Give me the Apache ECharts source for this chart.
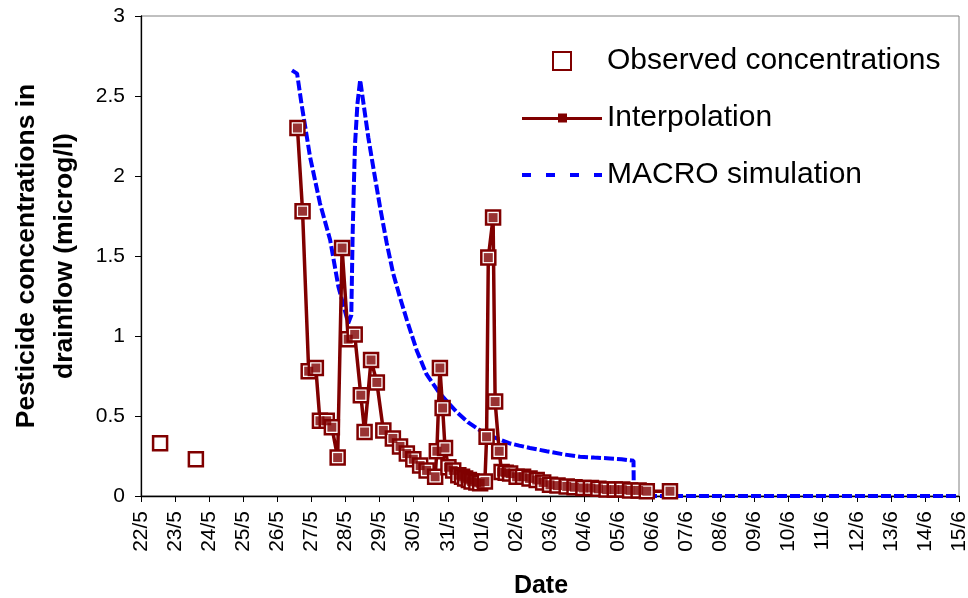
<!DOCTYPE html>
<html>
<head>
<meta charset="utf-8">
<script src="https://cdn.jsdelivr.net/npm/echarts@6/dist/echarts.min.js"></script>
<style>
  html, body { margin: 0; padding: 0; background: #fff; }
  #chart { width: 968px; height: 598px; }
</style>
</head>
<body>
<div id="chart"></div>
<script>
// x values are days counted from 22/5 00:00
const dateLabels = ['22/5', '23/5', '24/5', '25/5', '26/5', '27/5', '28/5', '29/5', '30/5', '31/5',
  '01/6', '02/6', '03/6', '04/6', '05/6', '06/6', '07/6', '08/6', '09/6', '10/6',
  '11/6', '12/6', '13/6', '14/6', '15/6']

// observed concentrations (first two are not part of the interpolation)
const obsDay = [0.56, 1.61,
  4.59, 4.74, 4.92, 5.13, 5.25, 5.45, 5.60, 5.77, 5.90, 6.08, 6.27, 6.45, 6.56, 6.75, 6.92,
  7.11, 7.39, 7.60, 7.80, 7.99, 8.19, 8.38, 8.63, 8.68, 8.77, 8.85, 8.92, 9.02, 9.16, 9.31,
  9.42, 9.51, 9.62, 9.70, 9.84, 9.95, 10.09, 10.14, 10.19, 10.33, 10.39, 10.51, 10.58, 10.70,
  10.83, 11.02, 11.21, 11.40, 11.61, 11.80, 12.00, 12.22, 12.49, 12.72, 12.98, 13.20, 13.42,
  13.66, 13.90, 14.12, 14.35, 14.60, 14.84, 15.52]
const obsConc = [0.33, 0.23,
  2.30, 1.78, 0.78, 0.80, 0.47, 0.47, 0.43, 0.24, 1.55, 0.98, 1.01, 0.63, 0.40, 0.85, 0.71,
  0.41, 0.36, 0.31, 0.265, 0.23, 0.19, 0.16, 0.12, 0.28, 0.80, 0.55, 0.30, 0.18, 0.16, 0.13,
  0.12, 0.11, 0.10, 0.09, 0.085, 0.08, 0.09, 0.37, 1.49, 1.74, 0.59, 0.28, 0.15, 0.145,
  0.14, 0.12, 0.12, 0.11, 0.10, 0.085, 0.07, 0.065, 0.06, 0.055, 0.05, 0.05, 0.045,
  0.04, 0.04, 0.04, 0.035, 0.035, 0.03, 0.03]
const interpStart = 2

// MACRO simulation
const macroDay = [4.43, 4.58, 4.71, 4.96, 5.25, 5.55, 5.79, 6.08, 6.17, 6.21, 6.26, 6.28, 6.35, 6.43,
  6.53, 6.67, 6.81, 7.01, 7.21, 7.40, 7.60, 7.80, 8.09, 8.38, 8.77, 9.26, 9.60, 9.95, 10.20,
  10.44, 10.80, 11.10, 11.41, 11.90, 12.40, 12.88, 13.30, 13.76, 14.10, 14.45, 14.46, 24]
const macroConc = [2.66, 2.64, 2.45, 2.12, 1.83, 1.60, 1.31, 1.08, 1.13, 1.64, 2.06, 2.20, 2.45, 2.60,
  2.45, 2.24, 2.06, 1.81, 1.58, 1.39, 1.24, 1.10, 0.91, 0.76, 0.64, 0.525, 0.46, 0.41, 0.38,
  0.36, 0.33, 0.315, 0.30, 0.28, 0.26, 0.245, 0.24, 0.235, 0.23, 0.22, 0, 0]

const darkRed = '#800000'
const blue = '#0000ff'
const font = 'Liberation Sans'

const obsData = obsDay.map((d, i) => [d, obsConc[i]])
const interpData = obsData.slice(interpStart)
const macroData = macroDay.map((d, i) => [d, macroConc[i]])

// legend icons drawn like the excel ones
const iconSquare = 'path://M0,0H16V16H0Z'
const iconLineMarker = 'path://M0,3.5H80V6.5H0Z M36,0H45V9H36Z'
const iconDashes = 'path://M0,0h9v4h-9z M24,0h9v4h-9z M48,0h9v4h-9z M72,0h8v4h-8z'

const chart = echarts.init(document.getElementById('chart'))
chart.setOption({
  animation: false,
  textStyle: { fontFamily: font, color: '#000' },
  grid: {
    left: 141,
    right: 9,
    top: 16,
    bottom: 102,
    outerBoundsMode: 'none',
    containLabel: false,
    show: true,
    borderColor: '#808080',
    borderWidth: 1
  },
  legend: {
    orient: 'vertical',
    left: 517,
    top: 41,
    itemWidth: 80,
    itemHeight: 18,
    itemGap: 27,
    textStyle: { fontFamily: font, fontSize: 30, color: '#000' },
    data: [
      { name: 'Observed concentrations', icon: iconSquare, itemStyle: { color: '#fff', borderColor: darkRed, borderWidth: 2 } },
      { name: 'Interpolation', icon: iconLineMarker, itemStyle: { color: darkRed, borderWidth: 0 } },
      { name: 'MACRO simulation', icon: iconDashes, itemStyle: { color: blue, borderWidth: 0 } }
    ]
  },
  xAxis: {
    type: 'value',
    min: 0,
    max: 24,
    interval: 1,
    name: 'Date',
    nameLocation: 'middle',
    nameGap: 78,
    nameTextStyle: { fontFamily: font, fontSize: 25, fontWeight: 'bold', color: '#000', padding: [0, 18, 0, 0] },
    axisLine: { lineStyle: { color: '#000', width: 1.3 } },
    axisTick: { length: 6, lineStyle: { color: '#000' } },
    splitLine: { show: false },
    axisLabel: {
      rotate: 90,
      margin: 15,
      fontSize: 21,
      color: '#000',
      fontFamily: font,
      formatter: v => dateLabels[v]
    }
  },
  yAxis: {
    type: 'value',
    min: 0,
    max: 3,
    interval: 0.5,
    name: 'Pesticide concentrations in\ndrainflow (microg/l)',
    nameLocation: 'middle',
    nameRotate: 90,
    nameGap: 57,
    nameTextStyle: { fontFamily: font, fontSize: 26.5, fontWeight: 'bold', color: '#000', lineHeight: 38 },
    axisLine: { show: true, lineStyle: { color: '#000', width: 1.3 } },
    axisTick: { show: true, length: 6, lineStyle: { color: '#000' } },
    splitLine: { show: false },
    axisLabel: { margin: 16, fontSize: 21, color: '#000', fontFamily: font }
  },
  series: [
    {
      name: 'Interpolation',
      type: 'line',
      data: interpData,
      symbol: 'rect',
      symbolSize: 9,
      showSymbol: true,
      lineStyle: { color: darkRed, width: 3.5 },
      itemStyle: { color: darkRed },
      z: 2
    },
    {
      name: 'Observed concentrations',
      type: 'scatter',
      data: obsData,
      symbol: 'rect',
      symbolSize: 14,
      itemStyle: { color: '#fff', borderColor: darkRed, borderWidth: 2.5, opacity: 1 },
      z: 3
    },
    {
      name: 'Interpolation',
      type: 'scatter',
      data: interpData,
      symbol: 'rect',
      symbolSize: 9,
      itemStyle: { color: darkRed },
      z: 4
    },
    {
      name: 'MACRO simulation',
      type: 'line',
      data: macroData,
      symbol: 'none',
      lineStyle: { color: blue, width: 4, type: [10, 3] },
      itemStyle: { color: blue },
      z: 1
    }
  ]
})
</script>
</body>
</html>
